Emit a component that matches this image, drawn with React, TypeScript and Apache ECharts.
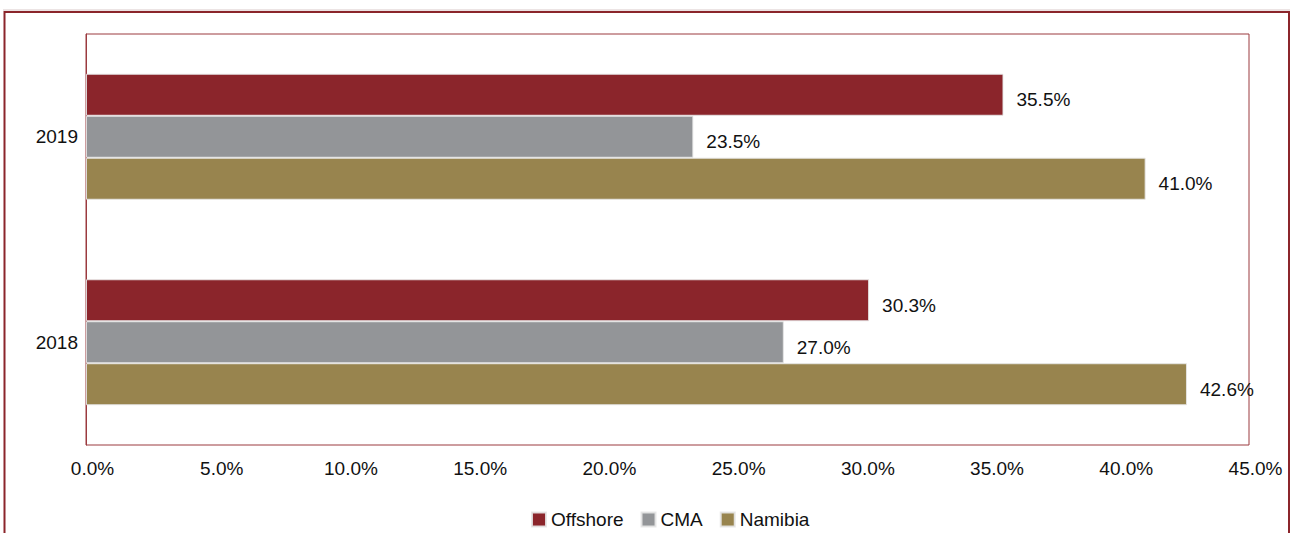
import React, { useEffect, useRef } from "react";
import * as echarts from "echarts";

const categories = ["2018", "2019"];
const offshore = [30.3, 35.5];
const cma = [27.0, 23.5];
const namibia = [42.6, 41.0];
const xTicks = { min: 0, max: 45, interval: 5 };

const RED = "#8b252b";
const GREY = "#939598";
const GOLD = "#98844e";
const FONT = "'Liberation Sans', Arial, sans-serif";

export default function App() {
  const ref = useRef<HTMLDivElement>(null);
  useEffect(() => {
    if (!ref.current) return;
    const chart = echarts.init(ref.current, null, { renderer: "svg" });
    const label = {
      show: true,
      position: "right" as const,
      distance: 13,
      color: "#111",
      fontSize: 19,
      fontFamily: FONT,
      formatter: (p: any) => `${Number(p.value).toFixed(1)}%`,
      offset: [0, 5],
    };
    const mk = (name: string, data: number[], color: string) => ({
      name,
      type: "bar" as const,
      data,
      barGap: "0%",
      barCategoryGap: "38.7%",
      itemStyle: { color, borderColor: "rgba(230,230,230,0.9)", borderWidth: 1 },
      label,
    });
    chart.setOption({
      animation: false,
      textStyle: { fontFamily: FONT },
      grid: {
        left: 86,
        top: 34,
        right: 42,
        bottom: 88,
        show: true,
        borderColor: "#9b3a3f",
        borderWidth: 1,
        backgroundColor: "transparent",
      },
      xAxis: {
        type: "value",
        min: xTicks.min,
        max: xTicks.max,
        interval: xTicks.interval,
        axisLine: { show: false },
        axisTick: { show: false },
        splitLine: { show: false },
        axisLabel: {
          color: "#111",
          fontSize: 19,
          fontFamily: FONT,
          margin: 14,
          padding: [0, 0, 0, 13],
          formatter: (v: number) => `${v.toFixed(1)}%`,
        },
      },
      yAxis: {
        type: "category",
        data: categories,
        axisLine: { show: true, lineStyle: { color: "#9b3a3f" } },
        axisTick: { show: false },
        axisLabel: { color: "#111", fontSize: 19, fontFamily: FONT, margin: 8 },
      },
      legend: {
        data: ["Offshore", "CMA", "Namibia"],
        left: 526,
        top: 505,
        itemWidth: 14,
        itemHeight: 14,
        itemGap: 17,
        icon: "rect",
        textStyle: { color: "#111", fontSize: 19, fontFamily: FONT },
      },
      graphic: [
        {
          type: "line",
          shape: { x1: 3, y1: 10, x2: 1290, y2: 10 },
          style: { stroke: "#d8c8c8", lineWidth: 1 },
          silent: true,
        },
        {
          type: "rect",
          shape: { x: 4.5, y: 12, width: 1284.5, height: 560 },
          style: { fill: "none", stroke: RED, lineWidth: 2 },
          silent: true,
        },
      ],
      series: [
        mk("Offshore", offshore, RED),
        mk("CMA", cma, GREY),
        mk("Namibia", namibia, GOLD),
      ],
    });
    return () => chart.dispose();
  }, []);
  return (
    <div
      ref={ref}
      style={{ position: "fixed", left: 0, top: 0, width: 1291, height: 533, background: "#fff" }}
    />
  );
}
